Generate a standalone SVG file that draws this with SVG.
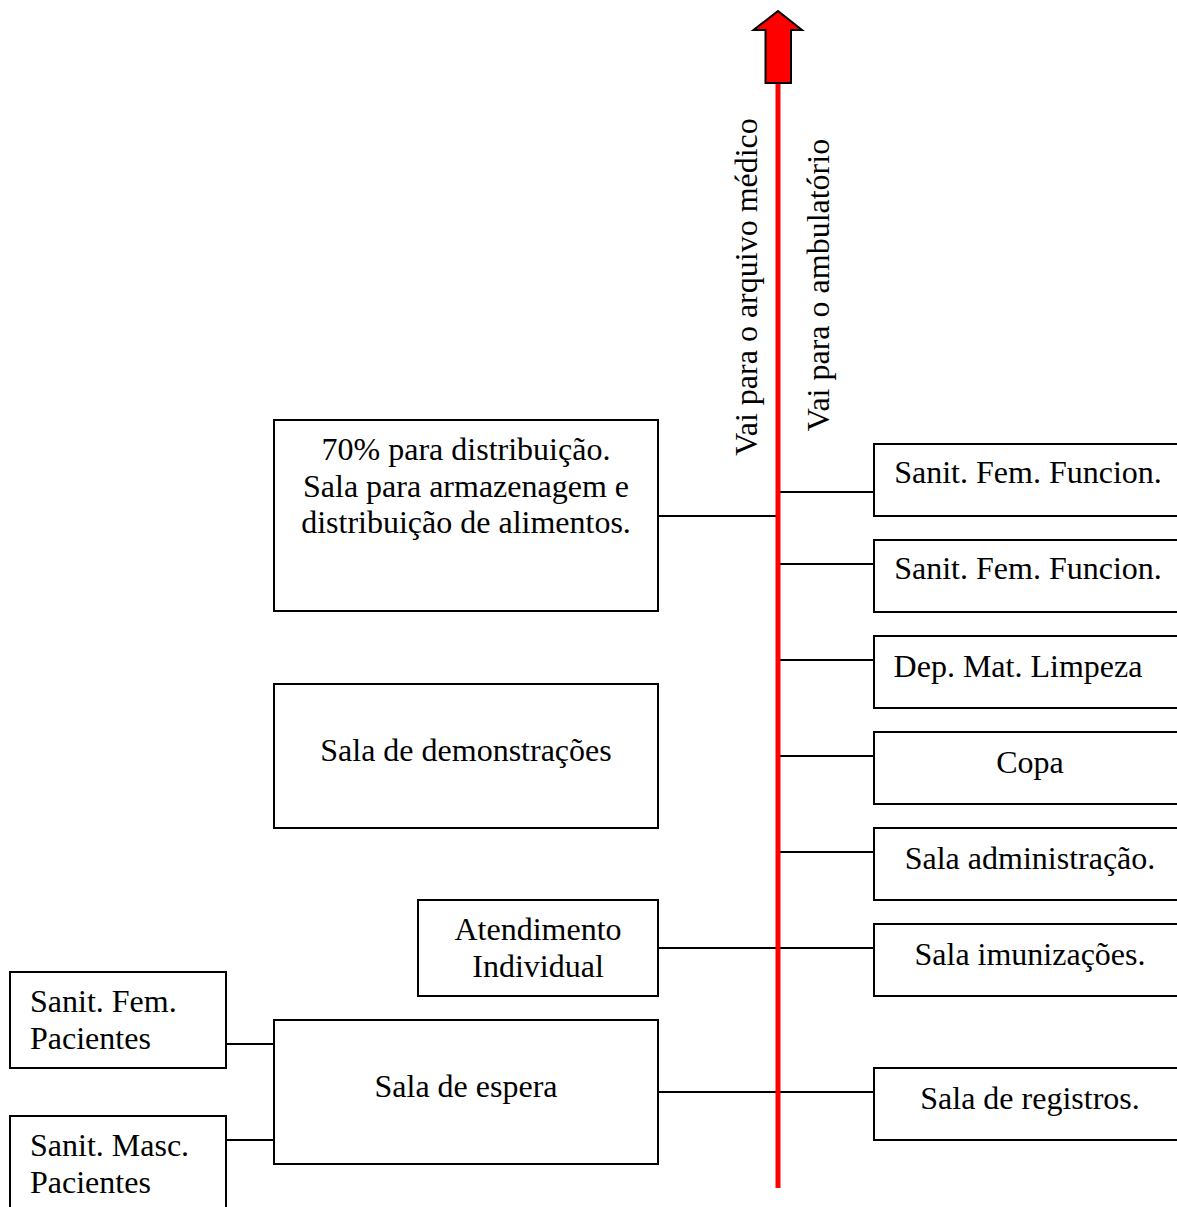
<svg xmlns="http://www.w3.org/2000/svg" width="1177" height="1207" viewBox="0 0 1177 1207">
  <style>
    .box { fill: #fff; stroke: #000; stroke-width: 2; }
    .ln { stroke: #000; stroke-width: 2; fill: none; }
    text { font-family: "Liberation Serif", "Times New Roman", serif; font-size: 32px; fill: #000; }
    .c { text-anchor: middle; }
  </style>
  <rect width="1177" height="1207" fill="#fff"/>

  <!-- connectors -->
  <g id="connectors">
    <line class="ln" x1="658" y1="516" x2="777" y2="516"/>
    <line class="ln" x1="779" y1="492" x2="874" y2="492"/>
    <line class="ln" x1="779" y1="564" x2="874" y2="564"/>
    <line class="ln" x1="779" y1="660" x2="874" y2="660"/>
    <line class="ln" x1="779" y1="756" x2="874" y2="756"/>
    <line class="ln" x1="779" y1="852" x2="874" y2="852"/>
    <line class="ln" x1="658" y1="948" x2="874" y2="948"/>
    <line class="ln" x1="658" y1="1092" x2="874" y2="1092"/>
    <line class="ln" x1="226" y1="1044" x2="274" y2="1044"/>
    <line class="ln" x1="226" y1="1140" x2="274" y2="1140"/>
    <!-- main red axis with block arrow -->
    <line x1="778" y1="82" x2="778" y2="1188" stroke="#f00" stroke-width="5"/>
    <polygon points="778,11 802,30 791,30 791,83 765.5,83 765.5,30 753.5,30" fill="#f00" stroke="#000" stroke-width="2" stroke-linejoin="miter"/>
  </g>

  <!-- axis labels -->
  <text transform="translate(757,287) rotate(-90)" class="c">Vai para o arquivo médico</text>
  <text transform="translate(829,285) rotate(-90)" class="c">Vai para o ambulatório</text>

  <!-- left column -->
  <g id="n-distribuicao">
    <rect class="box" x="274" y="420" width="384" height="191"/>
    <text class="c" x="466" y="460">70% para distribuição.</text>
    <text class="c" x="466" y="497">Sala para armazenagem e</text>
    <text class="c" x="466" y="533">distribuição de alimentos.</text>
  </g>
  <g id="n-demonstracoes">
    <rect class="box" x="274" y="684" width="384" height="144"/>
    <text class="c" x="466" y="761">Sala de demonstrações</text>
  </g>
  <g id="n-atendimento">
    <rect class="box" x="418" y="900" width="240" height="96"/>
    <text class="c" x="538" y="940">Atendimento</text>
    <text class="c" x="538" y="977">Individual</text>
  </g>
  <g id="n-espera">
    <rect class="box" x="274" y="1020" width="384" height="144"/>
    <text class="c" x="466" y="1097">Sala de espera</text>
  </g>
  <g id="n-sanit-fem-pac">
    <rect class="box" x="10" y="972" width="216" height="96"/>
    <text x="30" y="1012">Sanit. Fem.</text>
    <text x="30" y="1049">Pacientes</text>
  </g>
  <g id="n-sanit-masc-pac">
    <rect class="box" x="10" y="1116" width="216" height="100"/>
    <text x="30" y="1156">Sanit. Masc.</text>
    <text x="30" y="1193">Pacientes</text>
  </g>

  <!-- right column -->
  <g id="n-sanit-fem-func-1">
    <rect class="box" x="874" y="444" width="310" height="72"/>
    <text class="c" x="1028" y="483">Sanit. Fem. Funcion.</text>
  </g>
  <g id="n-sanit-fem-func-2">
    <rect class="box" x="874" y="540" width="310" height="72"/>
    <text class="c" x="1028" y="579">Sanit. Fem. Funcion.</text>
  </g>
  <g id="n-limpeza">
    <rect class="box" x="874" y="636" width="310" height="72"/>
    <text class="c" x="1018" y="677">Dep. Mat. Limpeza</text>
  </g>
  <g id="n-copa">
    <rect class="box" x="874" y="732" width="310" height="72"/>
    <text class="c" x="1030" y="773">Copa</text>
  </g>
  <g id="n-administracao">
    <rect class="box" x="874" y="828" width="310" height="72"/>
    <text class="c" x="1030" y="869">Sala administração.</text>
  </g>
  <g id="n-imunizacoes">
    <rect class="box" x="874" y="924" width="310" height="72"/>
    <text class="c" x="1030" y="965">Sala imunizações.</text>
  </g>
  <g id="n-registros">
    <rect class="box" x="874" y="1068" width="310" height="72"/>
    <text class="c" x="1030" y="1109">Sala de registros.</text>
  </g>
</svg>
